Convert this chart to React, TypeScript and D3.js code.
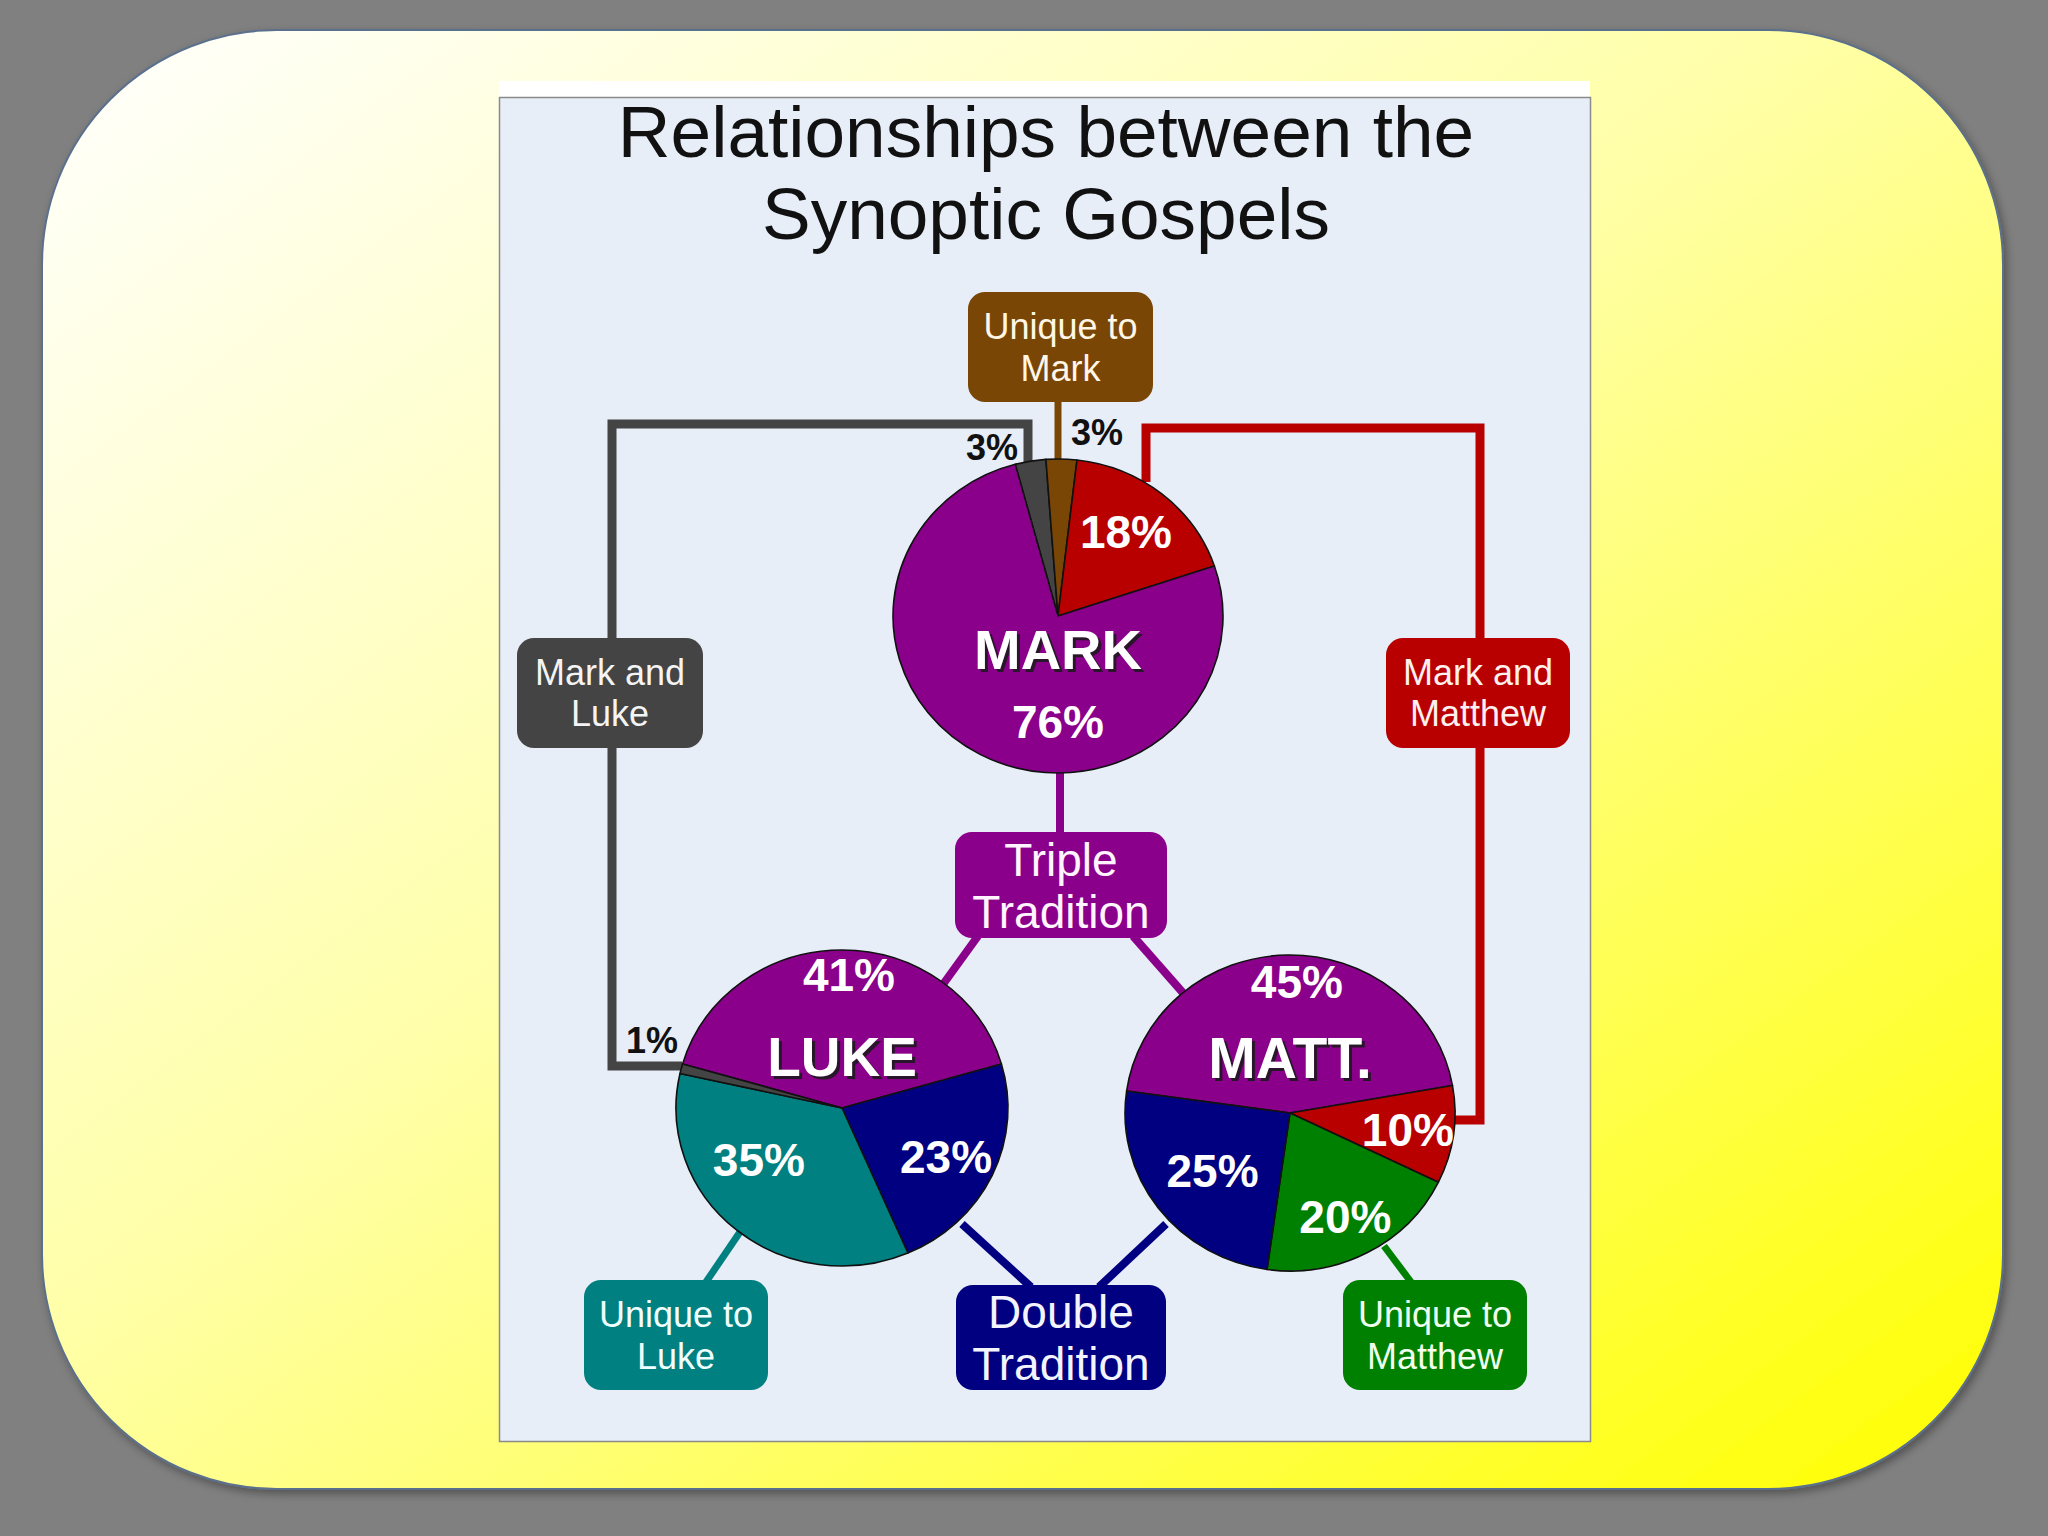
import React from "react";
import * as d3 from "d3";

// ---------- data ----------
const categories = [
  "Triple Tradition",
  "Double Tradition",
  "Mark and Luke",
  "Mark and Matthew",
  "Unique to Mark",
  "Unique to Luke",
  "Unique to Matthew",
];
const categoryColors = ["#8b008b", "#000080", "#444444", "#b80000", "#7a4606", "#008080", "#008000"];

const markSlices = ["Mark and Luke", "Unique to Mark", "Mark and Matthew", "Triple Tradition"];
const markValues = [3, 3, 18, 76];
const lukeSlices = ["Triple Tradition", "Double Tradition", "Unique to Luke", "Mark and Luke"];
const lukeValues = [41, 23, 35, 1];
const mattSlices = ["Triple Tradition", "Mark and Matthew", "Unique to Matthew", "Double Tradition"];
const mattValues = [45, 10, 20, 25];

const titleLines = ["Relationships between the", "Synoptic Gospels"];

const FONT = "'Liberation Sans', Arial, Helvetica, sans-serif";
const deg = Math.PI / 180;
const color = d3.scaleOrdinal<string, string>().domain(categories).range(categoryColors);

type LabelCfg = { inside: boolean; r?: number; angleOverride?: number; dx?: number; dy?: number };
type PieCfg = {
  name: string;
  slices: string[];
  values: number[];
  cx: number;
  cy: number;
  rx: number;
  ry: number;
  start: number; // degrees
  nameDy: number;
  nameSize: number;
  labels: LabelCfg[];
};

const pies: PieCfg[] = [
  {
    name: "MARK",
    slices: markSlices,
    values: markValues,
    cx: 1058,
    cy: 616,
    rx: 165,
    ry: 157,
    start: -15,
    nameDy: 33,
    nameSize: 56,
    labels: [
      { inside: false, dx: -66, dy: -156 },
      { inside: false, dx: 39, dy: -171 },
      { inside: true, r: 108 },
      { inside: true, r: 106, angleOverride: 180 },
    ],
  },
  {
    name: "LUKE",
    slices: lukeSlices,
    values: lukeValues,
    cx: 842,
    cy: 1108,
    rx: 166,
    ry: 158,
    start: -73.8,
    nameDy: -52,
    nameSize: 55,
    labels: [
      { inside: true, r: 133, angleOverride: 3 },
      { inside: true, r: 115 },
      { inside: true, r: 98, angleOverride: 238 },
      { inside: false, dx: -190, dy: -55 },
    ],
  },
  {
    name: "MATT.",
    slices: mattSlices,
    values: mattValues,
    cx: 1290,
    cy: 1113,
    rx: 165,
    ry: 158,
    start: -82,
    nameDy: -56,
    nameSize: 57,
    labels: [
      { inside: true, r: 131, angleOverride: 3 },
      { inside: true, r: 119 },
      { inside: true, r: 118 },
      { inside: true, r: 97 },
    ],
  },
];

type BoxCfg = { lines: string[]; cat: string; x: number; y: number; w: number; h: number; size: number; lh: number; textColor: string };
const boxes: BoxCfg[] = [
  { lines: ["Unique to", "Mark"], cat: "Unique to Mark", x: 968, y: 292, w: 185, h: 110, size: 36, lh: 42, textColor: "#fff6e6" },
  { lines: ["Mark and", "Luke"], cat: "Mark and Luke", x: 517, y: 638, w: 186, h: 110, size: 36, lh: 41, textColor: "#f4f4f4" },
  { lines: ["Mark and", "Matthew"], cat: "Mark and Matthew", x: 1386, y: 638, w: 184, h: 110, size: 36, lh: 41, textColor: "#fff0f0" },
  { lines: ["Triple", "Tradition"], cat: "Triple Tradition", x: 955, y: 832, w: 212, h: 106, size: 46, lh: 52, textColor: "#fff4ff" },
  { lines: ["Unique to", "Luke"], cat: "Unique to Luke", x: 584, y: 1280, w: 184, h: 110, size: 36, lh: 42, textColor: "#f0ffff" },
  { lines: ["Double", "Tradition"], cat: "Double Tradition", x: 956, y: 1285, w: 210, h: 105, size: 46, lh: 52, textColor: "#f4f4ff" },
  { lines: ["Unique to", "Matthew"], cat: "Unique to Matthew", x: 1343, y: 1280, w: 184, h: 110, size: 36, lh: 42, textColor: "#f0fff0" },
];

type Conn = { cat: string; pts: [number, number][]; w: number };
const connectors: Conn[] = [
  { cat: "Unique to Mark", pts: [[1058, 400], [1058, 463]], w: 7 },
  { cat: "Mark and Luke", pts: [[1028, 466], [1028, 424], [612, 424], [612, 1066], [682, 1066]], w: 9 },
  { cat: "Mark and Matthew", pts: [[1146, 482], [1146, 428], [1480, 428], [1480, 1120], [1452, 1120]], w: 9 },
  { cat: "Triple Tradition", pts: [[1060, 770], [1060, 834]], w: 8 },
  { cat: "Triple Tradition", pts: [[978, 936], [944, 983]], w: 8 },
  { cat: "Triple Tradition", pts: [[1133, 936], [1184, 994]], w: 8 },
  { cat: "Double Tradition", pts: [[962, 1224], [1031, 1287]], w: 8 },
  { cat: "Double Tradition", pts: [[1166, 1224], [1099, 1287]], w: 8 },
  { cat: "Unique to Luke", pts: [[740, 1232], [706, 1282]], w: 7 },
  { cat: "Unique to Matthew", pts: [[1384, 1246], [1411, 1282]], w: 7 },
];

function PieView({ cfg }: { cfg: PieCfg }) {
  const data = cfg.slices.map((s, i) => ({ cat: s, value: cfg.values[i] }));
  const pie = d3
    .pie<{ cat: string; value: number }>()
    .sort(null)
    .value((d) => d.value)
    .startAngle(cfg.start * deg)
    .endAngle(cfg.start * deg + 2 * Math.PI);
  const arcs = pie(data);
  const arc = d3.arc<d3.PieArcDatum<{ cat: string; value: number }>>().innerRadius(0).outerRadius(cfg.rx);
  const sy = cfg.ry / cfg.rx;
  return (
    <g>
      <g transform={`translate(${cfg.cx},${cfg.cy}) scale(1,${sy})`}>
        {arcs.map((a, i) => (
          <path
            key={i}
            d={arc(a) || ""}
            fill={color(a.data.cat)}
            stroke="#111"
            strokeWidth={1.6}
            strokeLinejoin="round"
            vectorEffect="non-scaling-stroke"
          />
        ))}
      </g>
      {arcs.map((a, i) => {
        const lc = cfg.labels[i];
        const txt = `${a.data.value}%`;
        if (lc.inside) {
          const ang = lc.angleOverride !== undefined ? lc.angleOverride * deg : (a.startAngle + a.endAngle) / 2;
          const r = lc.r || 100;
          const x = cfg.cx + r * Math.sin(ang);
          const y = cfg.cy - r * Math.cos(ang);
          return (
            <text key={i} x={x} y={y + 16} textAnchor="middle" fontFamily={FONT} fontWeight="bold" fontSize={46} fill="#ffffff">
              {txt}
            </text>
          );
        }
        return (
          <text
            key={i}
            x={cfg.cx + (lc.dx || 0)}
            y={cfg.cy + (lc.dy || 0)}
            textAnchor="middle"
            fontFamily={FONT}
            fontWeight="bold"
            fontSize={36}
            fill="#111"
          >
            {txt}
          </text>
        );
      })}
      <text
        x={cfg.cx + 3}
        y={cfg.cy + cfg.nameDy + cfg.nameSize * 0.36 + 3}
        textAnchor="middle"
        fontFamily={FONT}
        fontWeight="bold"
        fontSize={cfg.nameSize}
        fill="#1a1a1a"
        opacity={0.85}
      >
        {cfg.name}
      </text>
      <text
        x={cfg.cx}
        y={cfg.cy + cfg.nameDy + cfg.nameSize * 0.36}
        textAnchor="middle"
        fontFamily={FONT}
        fontWeight="bold"
        fontSize={cfg.nameSize}
        fill="#ffffff"
      >
        {cfg.name}
      </text>
    </g>
  );
}

export default function App() {
  const line = d3.line();
  return (
    <svg
      width={2048}
      height={1536}
      viewBox="0 0 2048 1536"
      style={{ position: "absolute", left: 0, top: 0, display: "block" }}
    >
      <defs>
        <linearGradient id="bgGrad" x1="0" y1="0" x2="1" y2="1">
          <stop offset="0" stopColor="#ffffff" />
          <stop offset="0.45" stopColor="#ffffa8" />
          <stop offset="1" stopColor="#ffff00" />
        </linearGradient>
        <filter id="shadow" x="-5%" y="-5%" width="110%" height="110%">
          <feDropShadow dx="3" dy="4" stdDeviation="4" floodColor="#000" floodOpacity="0.35" />
        </filter>
      </defs>
      <rect x={0} y={0} width={2048} height={1536} fill="#808080" />
      <rect
        x={42}
        y={30}
        width={1961}
        height={1459}
        rx={235}
        ry={235}
        fill="url(#bgGrad)"
        stroke="#5a6f8c"
        strokeWidth={2}
        filter="url(#shadow)"
      />
      {/* panel */}
      <rect x={499} y={81} width={1091} height={17} fill="#ffffff" />
      <rect x={499.5} y={97.5} width={1091} height={1344} fill="#e7eef8" stroke="#8a8a8a" strokeWidth={1.5} />
      {titleLines.map((t, i) => (
        <text key={i} x={1046} y={157 + i * 82} textAnchor="middle" fontFamily={FONT} fontSize={73} fill="#111">
          {t}
        </text>
      ))}
      {/* connectors */}
      {connectors.map((c, i) => (
        <path
          key={i}
          d={line(c.pts) || ""}
          fill="none"
          stroke={color(c.cat)}
          strokeWidth={c.w}
          strokeLinejoin="miter"
        />
      ))}
      {/* boxes */}
      {boxes.map((b, i) => (
        <g key={i}>
          <rect x={b.x} y={b.y} width={b.w} height={b.h} rx={17} ry={17} fill={color(b.cat)} />
          {b.lines.map((l, j) => (
            <text
              key={j}
              x={b.x + b.w / 2}
              y={b.y + b.h / 2 - ((b.lines.length - 1) * b.lh) / 2 + j * b.lh + b.size * 0.36}
              textAnchor="middle"
              fontFamily={FONT}
              fontSize={b.size}
              fill={b.textColor}
            >
              {l}
            </text>
          ))}
        </g>
      ))}
      {pies.map((p, i) => (
        <PieView key={i} cfg={p} />
      ))}
    </svg>
  );
}
